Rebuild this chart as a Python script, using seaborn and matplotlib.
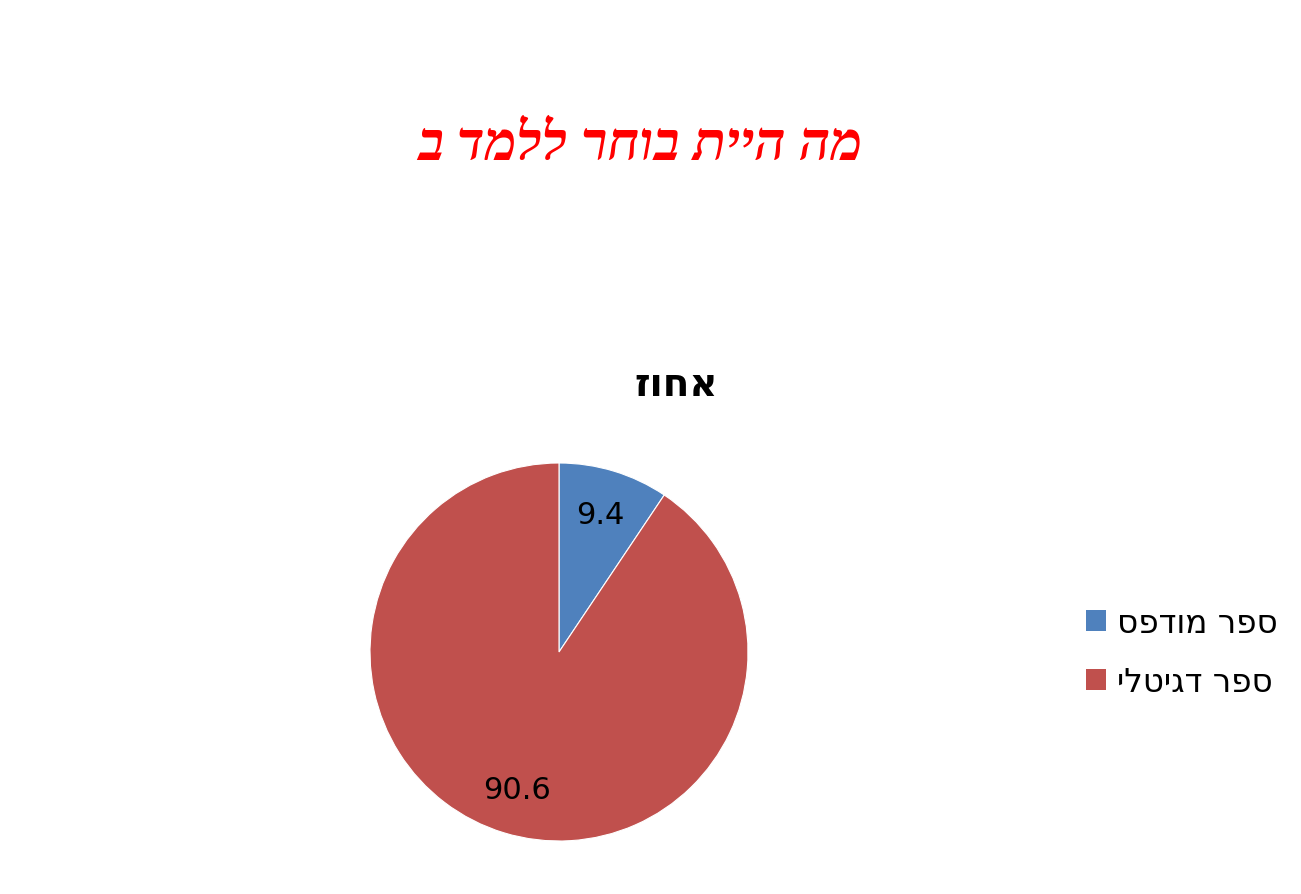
import matplotlib
matplotlib.use("Agg")
import matplotlib.pyplot as plt
import seaborn as sns
from matplotlib.patches import Patch

# data
categories = ["ספר מודפס", "ספר דגיטלי"]
values = [9.4, 90.6]
colors = ["#4F81BD", "#C0504D"]
main_title = "מה היית בוחר ללמד ב"
chart_title = "אחוז"

def rtl(s):
    # matplotlib has no bidi support, flip Hebrew strings by hand
    return s[::-1]

sns.set_theme(style="white")
plt.rcParams['font.family'] = ['DejaVu Sans']
plt.rcParams['text.color'] = 'black'

fig = plt.figure(figsize=(13.01, 8.95), dpi=100)
W, H = 1301, 895
cx, cy, r = 559, 653, 189
ax = fig.add_axes([(cx - r) / W, (H - cy - r) / H, 2 * r / W, 2 * r / H])

wedges, texts, autotexts = ax.pie(
    values, colors=colors, startangle=90, counterclock=False,
    autopct=lambda p: f"{p:.1f}", pctdistance=0.76,
    wedgeprops=dict(edgecolor="white", linewidth=0.8),
    textprops=dict(fontsize=22, color="black"))
ax.set_xlim(-1, 1)
ax.set_ylim(-1, 1)
ax.set_aspect("equal")

fig.text(640 / W, 1 - 147 / H, rtl(main_title), color="red", fontsize=39,
         fontweight="bold", fontstyle="italic", ha="center", va="center",
         family=['Liberation Serif', 'DejaVu Serif'])
fig.text(676 / W, 1 - 385 / H, rtl(chart_title), fontsize=28, fontweight="bold",
         ha="center", va="center")

handles = [Patch(facecolor=c, edgecolor="none") for c in colors]
fig.legend(handles, [rtl(c) for c in categories], loc="center left",
           bbox_to_anchor=(1086 / W, 1 - 653 / H), frameon=False,
           borderaxespad=0, borderpad=0,
           fontsize=23.5, handlelength=0.6, handleheight=0.6,
           handletextpad=0.35, labelspacing=0.8)

fig.savefig("out.png", dpi=100)
